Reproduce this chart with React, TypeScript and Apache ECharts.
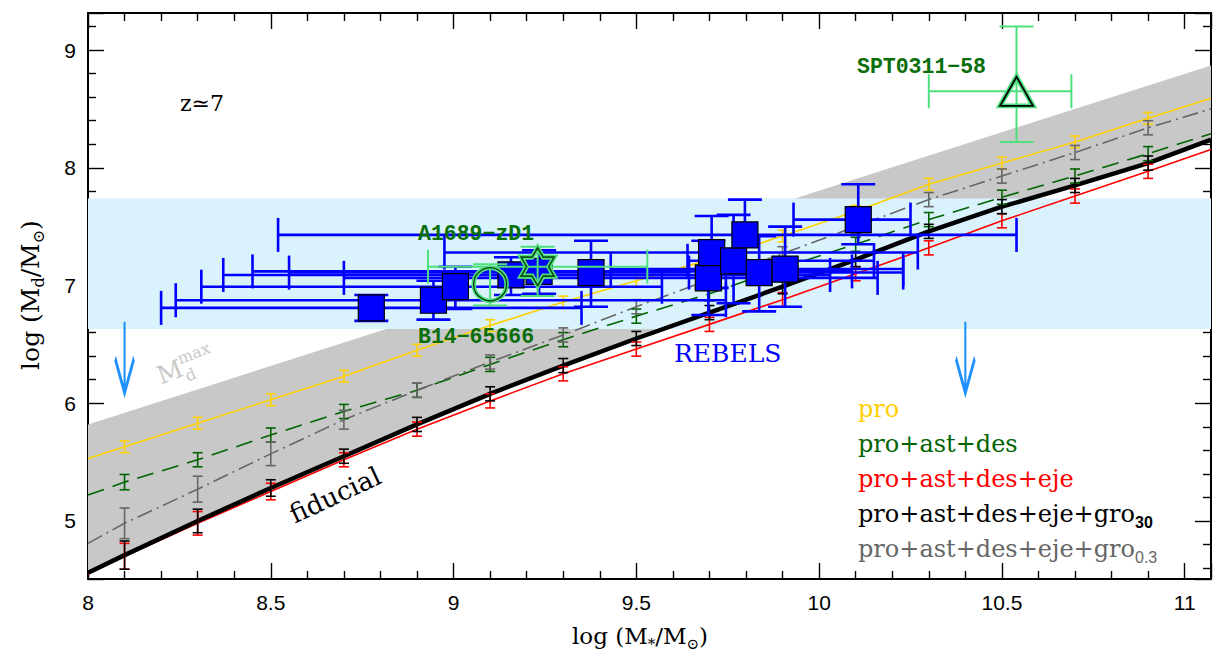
import React, { useEffect, useRef } from "react";
import * as echarts from "echarts";

// ---- axes ----
const X_MIN = 8;
const X_MAX = 11.072;
const Y_MIN = 4.507;
const Y_MAX = 9.315;

// ---- model tracks (error-bar positions) ----
const barX = [8.1, 8.3, 8.5, 8.7, 8.9, 9.1, 9.3, 9.5, 9.7, 9.9, 10.1, 10.3, 10.5, 10.7, 10.9];
const proY = [5.63, 5.83, 6.03, 6.23, 6.45, 6.66, 6.86, 7.04, 7.22, 7.42, 7.63, 7.86, 8.04, 8.22, 8.42];
const proEnds = [5.53, 8.59];
const proErr = [0.05, 0.05, 0.05, 0.05, 0.05, 0.05, 0.05, 0.05, 0.05, 0.05, 0.05, 0.05, 0.05, 0.05, 0.05];
const astY = [5.33, 5.52, 5.73, 5.93, 6.11, 6.33, 6.54, 6.74, 6.93, 7.15, 7.35, 7.56, 7.75, 7.93, 8.12];
const astEnds = [5.22, 8.29];
const astErr = [0.065, 0.06, 0.06, 0.06, 0.06, 0.06, 0.06, 0.06, 0.06, 0.06, 0.06, 0.06, 0.06, 0.06, 0.06];
const gro03Y = [4.98, 5.27, 5.57, 5.86, 6.11, 6.35, 6.58, 6.82, 7.05, 7.27, 7.5, 7.73, 7.93, 8.13, 8.34];
const gro03Ends = [4.81, 8.5];
const gro03Err = [0.13, 0.11, 0.1, 0.08, 0.06, 0.06, 0.06, 0.06, 0.06, 0.06, 0.06, 0.06, 0.06, 0.06, 0.06];
const ejeY = [4.7, 4.98, 5.25, 5.52, 5.78, 6.02, 6.25, 6.46, 6.67, 6.88, 7.1, 7.32, 7.55, 7.76, 7.97];
const ejeEnds = [4.55, 8.155];
const ejeErr = [0.11, 0.1, 0.07, 0.06, 0.06, 0.06, 0.06, 0.06, 0.06, 0.06, 0.06, 0.06, 0.06, 0.06, 0.06];
const fidY = [4.71, 5.0, 5.28, 5.55, 5.82, 6.08, 6.32, 6.55, 6.77, 6.99, 7.22, 7.46, 7.67, 7.85, 8.04];
const fidEnds = [4.56, 8.24];
const fidErr = [0.12, 0.1, 0.07, 0.06, 0.06, 0.06, 0.06, 0.06, 0.06, 0.06, 0.06, 0.06, 0.06, 0.06, 0.06];

// ---- maximum dust mass line ----
const mdmaxX = [8.0, 11.072];
const mdmaxY = [5.82, 8.87];

// ---- REBELS band ----
const rebelsBand = [6.63, 7.74];

// ---- REBELS detections ----
const rebX = [8.775, 8.945, 9.005, 9.157, 9.234, 9.376, 9.697, 9.706, 9.766, 9.797, 9.836, 9.907, 10.107];
const rebY = [6.81, 6.875, 6.99, 7.09, 7.12, 7.11, 7.065, 7.28, 7.21, 7.43, 7.11, 7.14, 7.56];
const rebXlo = [8.2, 8.24, 8.31, 8.37, 8.45, 8.55, 8.7, 8.975, 9.64, 8.52, 9.745, 9.43, 9.93];
const rebXhi = [9.35, 9.745, 9.57, 10.03, 10.09, 9.644, 10.16, 10.27, 10.15, 10.54, 10.23, 10.23, 10.25];
const rebYlo = [6.7, 6.71, 6.8, 6.92, 6.93, 6.82, 6.75, 6.98, 6.85, 7.13, 6.78, 6.82, 7.35];
const rebYhi = [6.92, 7.04, 7.16, 7.24, 7.3, 7.38, 7.38, 7.59, 7.6, 7.73, 7.42, 7.5, 7.86];

// ---- individual galaxies ----
const a1689 = { x: 9.1, y: 7.01, xlo: 9.1, xhi: 9.1, ylo: 6.83, yhi: 7.18 };
const b14 = { x: 9.23, y: 7.16, xlo: 8.93, xhi: 9.53, ylo: 6.91, yhi: 7.33 };
const spt = { x: 10.54, y: 8.65, xlo: 10.3, xhi: 10.69, ylo: 8.22, yhi: 9.2 };

// ---- upper-limit arrows ----
const arrowX = [8.1, 10.4];
const arrowY = [6.39, 6.39];

const LIGHT_GREEN = "#4ee07c";
const DARK_GREEN = "#0a6e0a";

const lineData = (vals: number[], ends: number[]) => [
  [X_MIN, ends[0]],
  ...barX.map((x, i) => [x, vals[i]]),
  [X_MAX, ends[1]],
];
const barData = (vals: number[], err: number[]) => barX.map((x, i) => [x, vals[i] - err[i], vals[i] + err[i]]);

const vBar = (color: string, cap: number, lw: number) => (_p: any, api: any) => {
  const x = api.value(0), lo = api.value(1), hi = api.value(2);
  const a = api.coord([x, lo]), b = api.coord([x, hi]);
  const st = { stroke: color, lineWidth: lw };
  return {
    type: "group",
    children: [
      { type: "line", shape: { x1: a[0], y1: a[1], x2: b[0], y2: b[1] }, style: st },
      { type: "line", shape: { x1: a[0] - cap, y1: a[1], x2: a[0] + cap, y2: a[1] }, style: st },
      { type: "line", shape: { x1: b[0] - cap, y1: b[1], x2: b[0] + cap, y2: b[1] }, style: st },
    ],
  };
};

const xyBar = (color: string, cap: number, lw: number) => (_p: any, api: any) => {
  const x = api.value(0), y = api.value(1);
  const xl = api.value(2), xh = api.value(3), yl = api.value(4), yh = api.value(5);
  const st = { stroke: color, lineWidth: lw };
  const ch: any[] = [];
  if (xl !== xh) {
    const a = api.coord([xl, y]), b = api.coord([xh, y]);
    ch.push({ type: "line", shape: { x1: a[0], y1: a[1], x2: b[0], y2: b[1] }, style: st });
    ch.push({ type: "line", shape: { x1: a[0], y1: a[1] - cap, x2: a[0], y2: a[1] + cap }, style: st });
    ch.push({ type: "line", shape: { x1: b[0], y1: b[1] - cap, x2: b[0], y2: b[1] + cap }, style: st });
  }
  if (yl !== yh) {
    const a = api.coord([x, yl]), b = api.coord([x, yh]);
    ch.push({ type: "line", shape: { x1: a[0], y1: a[1], x2: b[0], y2: b[1] }, style: st });
    ch.push({ type: "line", shape: { x1: a[0] - cap, y1: a[1], x2: a[0] + cap, y2: a[1] }, style: st });
    ch.push({ type: "line", shape: { x1: b[0] - cap, y1: b[1], x2: b[0] + cap, y2: b[1] }, style: st });
  }
  return { type: "group", children: ch };
};

const starPath = (() => {
  let d = "";
  for (let k = 0; k < 12; k++) {
    const a = -Math.PI / 2 + (k * Math.PI) / 6;
    const r = k % 2 === 0 ? 50 : 29;
    d += (k === 0 ? "M" : "L") + (50 + r * Math.cos(a)).toFixed(2) + "," + (50 + r * Math.sin(a)).toFixed(2) + " ";
  }
  return "path://" + d + "Z";
})();

const SERIF = "DejaVu Serif";
const MONO = "Liberation Mono";

const txt = (text: string, x: number, y: number, extra: any = {}, rot = 0) => ({
  type: "text",
  x,
  y,
  rotation: rot,
  z: 100,
  style: {
    text,
    x: 0,
    y: 0,
    fill: "#000",
    fontFamily: SERIF,
    fontSize: 24,
    align: "left",
    verticalAlign: "middle",
    ...extra,
  },
});

const legRich = (color: string, subWeight: string) => ({
  a: { fontFamily: SERIF, fontSize: 24, lineHeight: 32, fill: color },
  s: { fontFamily: "Liberation Sans", fontSize: 16, fontWeight: subWeight, lineHeight: 16, verticalAlign: "bottom", fill: color },
});

const nameRich = (size: number) => ({
  a: { fontFamily: SERIF, fontSize: size, lineHeight: size + 8, fill: "#000" },
  s: { fontFamily: SERIF, fontSize: Math.round(size * 0.65), lineHeight: Math.round(size * 0.65), verticalAlign: "bottom", fill: "#000" },
});

export default function App() {
  const ref = useRef<HTMLDivElement>(null);
  useEffect(() => {
    if (!ref.current) return;
    const chart = echarts.init(ref.current, null, { renderer: "svg" });
    const axisCommon = {
      type: "value",
      splitLine: { show: false },
      axisLine: { show: true, onZero: false, lineStyle: { color: "#000", width: 2 } },
      axisTick: { show: true, inside: true, length: 16, lineStyle: { color: "#000", width: 1.4 } },
      minorTick: { show: true, splitNumber: 5, length: 8, lineStyle: { color: "#000", width: 1.4 } },
      minorSplitLine: { show: false },
    };
    const xAx = { ...axisCommon, min: X_MIN, max: X_MAX, minInterval: 0.5, maxInterval: 0.5 };
    const yAx = { ...axisCommon, min: Y_MIN, max: Y_MAX, minInterval: 1, maxInterval: 1 };
    const labelStyle = { fontFamily: "Liberation Sans", fontSize: 21, color: "#000" };

    const modelBars = [
      { vals: proY, err: proErr, color: "#ffd000" },
      { vals: astY, err: astErr, color: "#006400" },
      { vals: gro03Y, err: gro03Err, color: "#666666" },
      { vals: ejeY, err: ejeErr, color: "#ff0000" },
      { vals: fidY, err: fidErr, color: "#000000" },
    ];

    const option: any = {
      animation: false,
      backgroundColor: "#ffffff",
      grid: { left: 88, right: 2, top: 13, bottom: 76, containLabel: false, outerBoundsMode: "none" },
      xAxis: [
        { ...xAx, position: "bottom", axisLabel: { ...labelStyle, margin: 13, showMinLabel: true, showMaxLabel: false } },
        { ...xAx, position: "top", axisLabel: { show: false } },
      ],
      yAxis: [
        { ...yAx, position: "left", axisLabel: { ...labelStyle, margin: 12, showMinLabel: false, showMaxLabel: false } },
        { ...yAx, position: "right", axisLabel: { show: false } },
      ],
      series: [
        {
          type: "custom",
          name: "Mdmax region",
          z: 1,
          silent: true,
          data: [[0]],
          renderItem: (_p: any, api: any) => {
            const pts: number[][] = [];
            mdmaxX.forEach((x, i) => pts.push(api.coord([x, mdmaxY[i]])));
            const fid = lineData(fidY, fidEnds);
            for (let i = fid.length - 1; i >= 0; i--) pts.push(api.coord(fid[i]));
            return { type: "polygon", shape: { points: pts }, style: { fill: "#c8c8c8" } };
          },
        },
        {
          type: "custom",
          name: "REBELS band",
          z: 1,
          silent: true,
          data: [[rebelsBand[0], rebelsBand[1]]],
          renderItem: (_p: any, api: any) => {
            const a = api.coord([X_MIN, api.value(1)]);
            const b = api.coord([X_MAX, api.value(0)]);
            return { type: "rect", shape: { x: a[0], y: a[1], width: b[0] - a[0], height: b[1] - a[1] }, style: { fill: "#d9f2fc" } };
          },
        },
        { type: "line", z: 2, showSymbol: false, data: lineData(proY, proEnds), lineStyle: { color: "#ffd000", width: 1.6 } },
        { type: "line", z: 2, showSymbol: false, data: lineData(astY, astEnds), lineStyle: { color: "#006400", width: 1.6, type: [17, 9] } },
        { type: "line", z: 2, showSymbol: false, data: lineData(gro03Y, gro03Ends), lineStyle: { color: "#666666", width: 1.6, type: [16, 5, 2, 5] } },
        { type: "line", z: 2, showSymbol: false, data: lineData(ejeY, ejeEnds), lineStyle: { color: "#ff0000", width: 1.6 } },
        { type: "line", z: 2, showSymbol: false, data: lineData(fidY, fidEnds), lineStyle: { color: "#000000", width: 4.5 } },
        ...modelBars.map((m) => ({
          type: "custom",
          z: 3,
          silent: true,
          data: barData(m.vals, m.err),
          renderItem: vBar(m.color, 5, 1.6),
        })),
        {
          type: "custom",
          z: 4,
          silent: true,
          data: rebX.map((x, i) => [x, rebY[i], rebXlo[i], rebXhi[i], rebYlo[i], rebYhi[i]]),
          renderItem: xyBar("#0000ff", 17, 2.6),
        },
        {
          type: "scatter",
          z: 5,
          symbol: "rect",
          symbolSize: 26,
          data: rebX.map((x, i) => [x, rebY[i]]),
          itemStyle: { color: "#0000ff", borderColor: "#000", borderWidth: 1.2, opacity: 1 },
        },
        {
          type: "custom",
          z: 6,
          silent: true,
          data: [a1689, b14, spt].map((g) => [g.x, g.y, g.xlo, g.xhi, g.ylo, g.yhi]),
          renderItem: xyBar(LIGHT_GREEN, 17, 2),
        },
        {
          type: "scatter",
          z: 7,
          symbol: "circle",
          symbolSize: 33,
          data: [[a1689.x, a1689.y]],
          itemStyle: { color: "transparent", borderColor: LIGHT_GREEN, borderWidth: 4.5, opacity: 1 },
        },
        {
          type: "scatter",
          z: 8,
          symbol: "circle",
          symbolSize: 33,
          data: [[a1689.x, a1689.y]],
          itemStyle: { color: "transparent", borderColor: "#0b3d12", borderWidth: 1.3, opacity: 1 },
        },
        {
          type: "scatter",
          z: 7,
          symbol: starPath,
          symbolSize: [33, 38],
          data: [[b14.x, b14.y]],
          itemStyle: { color: "transparent", borderColor: LIGHT_GREEN, borderWidth: 5, opacity: 1 },
        },
        {
          type: "scatter",
          z: 8,
          symbol: starPath,
          symbolSize: [33, 38],
          data: [[b14.x, b14.y]],
          itemStyle: { color: "transparent", borderColor: "#0b4d12", borderWidth: 1.6, opacity: 1 },
        },
        {
          type: "scatter",
          z: 7,
          symbol: "triangle",
          symbolSize: [33, 29],
          data: [[spt.x, spt.y]],
          itemStyle: { color: "transparent", borderColor: LIGHT_GREEN, borderWidth: 5, opacity: 1 },
        },
        {
          type: "scatter",
          z: 8,
          symbol: "triangle",
          symbolSize: [33, 29],
          data: [[spt.x, spt.y]],
          itemStyle: { color: "transparent", borderColor: "#000", borderWidth: 1.8, opacity: 1 },
        },
        {
          type: "scatter",
          z: 6,
          symbol: "path://M10,0 L10,70 M1,36 L10,70 L19,36",
          symbolSize: [19, 71],
          data: arrowX.map((x, i) => [x, arrowY[i]]),
          itemStyle: { color: "transparent", borderColor: "#1e90ff", borderWidth: 4, opacity: 1 },
        },
      ],
      graphic: [
        txt("z\u22437", 180, 103, { fontSize: 22 }),
        txt("A1689\u2212zD1", 418, 234, { fontFamily: MONO, fontWeight: "bold", fontSize: 21.5, fill: DARK_GREEN }),
        txt("B14\u221265666", 418, 337, { fontFamily: MONO, fontWeight: "bold", fontSize: 21.5, fill: DARK_GREEN }),
        txt("SPT0311\u221258", 857, 67, { fontFamily: MONO, fontWeight: "bold", fontSize: 21.5, fill: DARK_GREEN }),
        txt("REBELS", 674, 353, { fontSize: 25, fill: "#0000ff" }),
        txt("fiducial", 335, 495, { fontSize: 26, align: "center" }, (25 * Math.PI) / 180),
        {
          type: "group",
          x: 170,
          y: 372,
          rotation: (21 * Math.PI) / 180,
          z: 100,
          children: [
            { type: "text", x: 0, y: 0, style: { text: "M", fill: "#c8c8c8", fontFamily: SERIF, fontSize: 25, align: "center", verticalAlign: "middle" } },
            { type: "text", x: 12, y: -9, style: { text: "max", fill: "#c8c8c8", fontFamily: SERIF, fontSize: 16, align: "left", verticalAlign: "middle" } },
            { type: "text", x: 13, y: 10, style: { text: "d", fill: "#c8c8c8", fontFamily: SERIF, fontSize: 16, align: "left", verticalAlign: "middle" } },
          ],
        },
        txt("pro", 858, 409, { fill: "#ffd000" }),
        txt("pro+ast+des", 858, 444, { fill: "#006400" }),
        txt("pro+ast+des+eje", 858, 479, { fill: "#ff0000" }),
        txt("{a|pro+ast+des+eje+gro}{s|30}", 858, 514, { rich: legRich("#000000", "bold") }),
        txt("{a|pro+ast+des+eje+gro}{s|0.3}", 858, 549, { fill: "#666666", rich: legRich("#666666", "normal") }),
        txt("{a|log (M}{s|*}{a|/M}{s|\u2299}{a|)}", 640, 636, { align: "center", rich: nameRich(23) }),
        txt("{a|log (M}{s|d}{a|/M}{s|\u2299}{a|)}", 30, 295, { align: "center", rich: nameRich(25) }, Math.PI / 2),
      ],
    };
    chart.setOption(option);
    return () => chart.dispose();
  }, []);
  return (
    <div
      ref={ref}
      style={{ position: "fixed", left: 0, top: 0, width: 1213, height: 655, background: "#fff" }}
    />
  );
}
